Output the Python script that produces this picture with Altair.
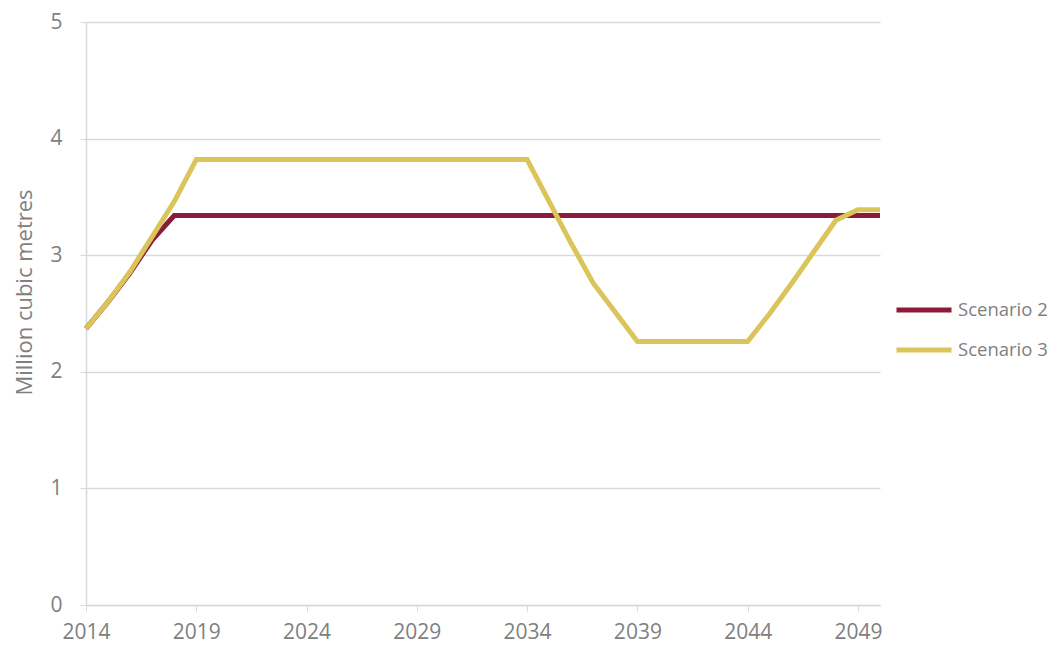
import altair as alt
import pandas as pd

years = list(range(2014, 2051))
scenario2 = [2.37, 2.60, 2.85, 3.13, 3.34] + [3.34] * 32
scenario3 = ([2.37, 2.60, 2.86, 3.16, 3.46] + [3.82] * 16 +
             [3.46, 3.10, 2.76, 2.51] + [2.26] * 6 +
             [2.50, 2.76, 3.03, 3.30, 3.39, 3.39])
series_names = ["Scenario 2", "Scenario 3"]
series_colors = ["#8C1A3A", "#DBC55B"]
x_ticks = [2014, 2019, 2024, 2029, 2034, 2039, 2044, 2049]
y_ticks = [0, 1, 2, 3, 4, 5]

rows = []
for name, vals in zip(series_names, [scenario2, scenario3]):
    for y, v in zip(years, vals):
        rows.append({"Year": y, "Value": v, "Series": name})
df = pd.DataFrame(rows)

FONT = "Open Sans"
GRAY = "#808080"
GRID = "#D9D9D9"

chart = alt.Chart(df).mark_line(strokeWidth=5, strokeCap="butt", strokeJoin="miter").encode(
    x=alt.X("Year:Q", scale=alt.Scale(domain=[2014, 2050], nice=False, zero=False),
            axis=alt.Axis(values=x_ticks, format="d", title=None, grid=False,
                          domainColor=GRID, domainWidth=1.5, tickColor=GRID, tickSize=6,
                          labelColor=GRAY, labelFontSize=21, labelFont=FONT, labelPadding=10,
                          labelFlush=False)),
    y=alt.Y("Value:Q", scale=alt.Scale(domain=[0, 5], nice=False),
            axis=alt.Axis(values=y_ticks, title="Million cubic metres", grid=True,
                          gridColor=GRID, gridWidth=1.5, domainColor=GRID, domainWidth=1.5,
                          tickColor=GRID, tickSize=6, labelColor=GRAY, labelFontSize=21,
                          labelFont=FONT, labelPadding=18, titleColor=GRAY, titleFontSize=22,
                          titleFont=FONT, titleFontWeight="normal", titleAngle=-90,
                          titleX=-62, titleY=270, titleBaseline="middle", titleAlign="center")),
    color=alt.Color("Series:N", scale=alt.Scale(domain=series_names, range=series_colors),
                    legend=alt.Legend(title=None, orient="none", legendX=808, legendY=258,
                                      symbolType="stroke", symbolSize=3025, symbolStrokeWidth=5,
                                      labelFontSize=18.5, labelFont=FONT, labelColor=GRAY,
                                      labelOffset=4, rowPadding=-14, labelLimit=200)),
    order=alt.Order("Year:Q"),
).properties(
    width=794, height=583,
    autosize=alt.AutoSizeParams(type="none"),
    padding={"left": 78, "top": 14, "right": 175, "bottom": 40},
).configure_view(stroke=None)

chart.save("out.html", embed_options={"renderer": "svg", "actions": False})
